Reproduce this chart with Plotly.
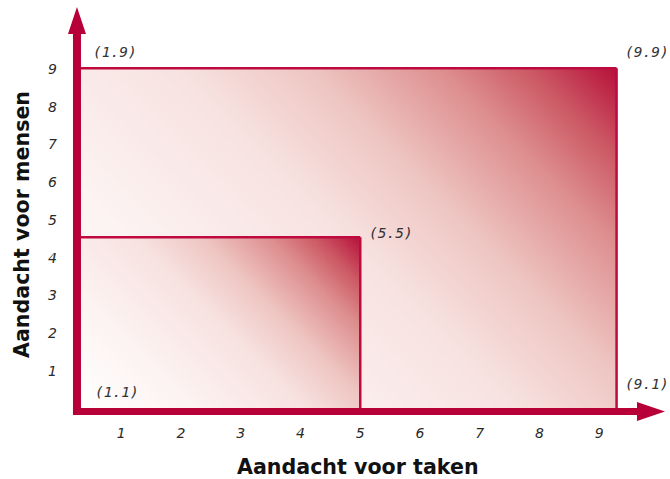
import numpy as np
import plotly.graph_objects as go

# ---- chart content -------------------------------------------------------
x_ticks = [1, 2, 3, 4, 5, 6, 7, 8, 9]
y_ticks = [1, 2, 3, 4, 5, 6, 7, 8, 9]
x_title = "Aandacht voor taken"
y_title = "Aandacht voor mensen"

# Outer field and middle field of the grid: right and top edges in grid units
field_right = [9.29, 5.0]
field_top = [9.02, 4.54]

# Corner labels of the grid styles
corner_labels = ["(1.9)", "(9.9)", "(5.5)", "(1.1)", "(9.1)"]

# ---- styling / layout ----------------------------------------------------
W, H = 670, 479
PX0, PXS = 61.5, 59.75      # pixel of x=0, pixels per unit
PY0, PYS = 408.4, 37.7      # pixel of y=0, pixels per unit

CRIMSON = "rgb(184,0,56)"
BORDER = "rgb(190,10,62)"

field_left = 0.326
axis_x = 0.259              # centre of the vertical axis bar
axis_y = -0.082             # centre of the horizontal axis bar
bar_half_x = 4 / PXS
bar_half_y = 3.5 / PYS

label_pos = [(0.895, 9.45), (9.80, 9.45), (5.51, 4.65), (0.93, 0.435), (9.80, 0.65)]

grad_scale = [
    [0.00, "rgb(255,255,255)"],
    [0.25, "rgb(252,243,242)"],
    [0.50, "rgb(247,226,224)"],
    [0.65, "rgb(238,197,194)"],
    [0.80, "rgb(221,142,142)"],
    [0.90, "rgb(204,88,100)"],
    [1.00, "rgb(182,16,58)"],
]

fig = go.Figure()

# Gradient fills: white at the lower-left corner, crimson at the upper-right
for right, top in zip(field_right, field_top):
    nx, ny = 160, 100
    xe = np.linspace(field_left, right, nx + 1)
    ye = np.linspace(0, top, ny + 1)
    xc = (xe[:-1] + xe[1:]) / 2
    yc = (ye[:-1] + ye[1:]) / 2
    span = (right - field_left) * PXS + top * PYS
    t = ((xc[None, :] - field_left) * PXS + yc[:, None] * PYS) / span
    fig.add_trace(go.Heatmap(
        x=xe, y=ye, z=t, zmin=0, zmax=1, colorscale=grad_scale,
        showscale=False, zsmooth="best", hoverinfo="skip",
    ))

shapes = []
# Field borders (top and right edges)
for right, top in zip(field_right, field_top):
    shapes.append(dict(type="line", x0=field_left, x1=right, y0=top, y1=top,
                       line=dict(color=BORDER, width=2.5), layer="above"))
    shapes.append(dict(type="line", x0=right, x1=right, y0=0, y1=top,
                       line=dict(color=BORDER, width=2.5), layer="above"))

# Vertical axis bar with arrow head
y_tip, y_base, y_head = (PY0 - 7) / PYS, (PY0 - 34) / PYS, 9 / PXS
x_bottom = axis_y - bar_half_y
path_v = (f"M {axis_x - bar_half_x},{x_bottom} L {axis_x + bar_half_x},{x_bottom} "
          f"L {axis_x + bar_half_x},{y_base} L {axis_x + y_head},{y_base} "
          f"L {axis_x},{y_tip} L {axis_x - y_head},{y_base} "
          f"L {axis_x - bar_half_x},{y_base} Z")
shapes.append(dict(type="path", path=path_v, fillcolor=CRIMSON,
                   line=dict(width=0), layer="above"))

# Horizontal axis bar with arrow head
x_tip, x_base, x_head = (665 - PX0) / PXS, (637 - PX0) / PXS, 9.5 / PYS
x_left = axis_x - bar_half_x
path_h = (f"M {x_left},{axis_y - bar_half_y} L {x_left},{axis_y + bar_half_y} "
          f"L {x_base},{axis_y + bar_half_y} L {x_base},{axis_y + x_head} "
          f"L {x_tip},{axis_y} L {x_base},{axis_y - x_head} "
          f"L {x_base},{axis_y - bar_half_y} Z")
shapes.append(dict(type="path", path=path_h, fillcolor=CRIMSON,
                   line=dict(width=0), layer="above"))

annotations = []
for txt, (lx, ly) in zip(corner_labels, label_pos):
    annotations.append(dict(
        x=lx, y=ly, xref="x", yref="y", text=txt, showarrow=False,
        font=dict(family="DejaVu Sans Mono", size=14.5, color="#333", style="italic"),
    ))

annotations.append(dict(
    x=358 / W, y=1 - 467 / H, xref="paper", yref="paper", text=x_title,
    showarrow=False, xanchor="center", yanchor="middle",
    font=dict(family="DejaVu Sans", size=20.6, color="#111", weight="bold"),
))
annotations.append(dict(
    x=22 / W, y=1 - 225 / H, xref="paper", yref="paper", text=y_title,
    showarrow=False, xanchor="center", yanchor="middle", textangle=-90,
    font=dict(family="DejaVu Sans", size=20.6, color="#111", weight="bold"),
))

tick_font = dict(family="DejaVu Sans", size=14, color="#2a2a2a", style="italic")

fig.update_layout(
    width=W, height=H,
    margin=dict(l=0, r=0, t=0, b=0),
    paper_bgcolor="white", plot_bgcolor="white",
    showlegend=False,
    shapes=shapes,
    annotations=annotations,
    xaxis=dict(
        range=[(0 - PX0) / PXS, (W - PX0) / PXS], domain=[0, 1],
        anchor="free", position=(H - 411.5) / H,
        tickvals=x_ticks, ticktext=[str(v) for v in x_ticks],
        ticks="", ticklabelstandoff=11, tickfont=tick_font,
        showline=False, showgrid=False, zeroline=False,
        automargin=False, fixedrange=True,
    ),
    yaxis=dict(
        range=[(PY0 - H) / PYS, PY0 / PYS], domain=[0, 1],
        anchor="free", position=77 / W,
        tickvals=y_ticks, ticktext=[str(v) for v in y_ticks],
        ticks="", ticklabelstandoff=20, tickfont=tick_font,
        showline=False, showgrid=False, zeroline=False,
        automargin=False, fixedrange=True,
    ),
)

fig.write_html("out.html")
